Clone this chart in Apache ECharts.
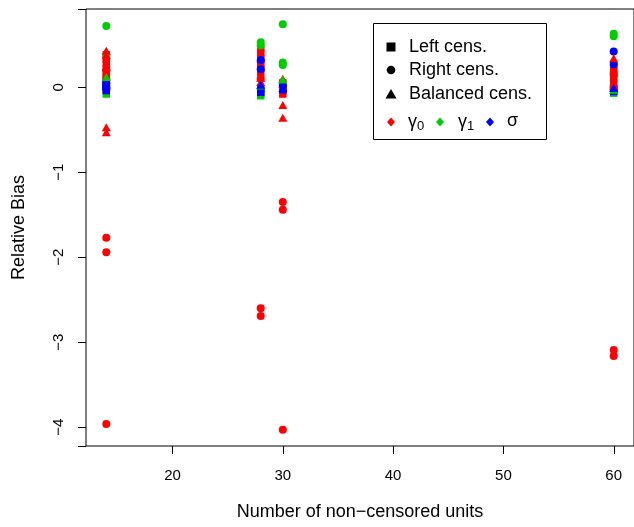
<!DOCTYPE html>
<html><head><meta charset="utf-8">
<script src="https://cdn.jsdelivr.net/npm/echarts@6/dist/echarts.min.js"></script>
<style>html,body{margin:0;padding:0;background:#fff}#c{width:634px;height:527px}</style>
</head><body><div id="c"></div>
<script>
const nUnits = [14, 28, 30, 60];
const xTicks = [20, 30, 40, 50, 60];
const yTicks = [-4, -3, -2, -1, 0];

// Left cens. (squares), values per nUnits
const leftRed   = [[0.38, 0.33, 0.28, 0.22, 0.17, 0.12, 0.06, 0.02, -0.03], [0.46, 0.40, 0.34, 0.28, 0.22, 0.17], [0.05, 0.00, -0.04, -0.08], [0.25, 0.20, 0.15, 0.10, 0.05]];
const leftGreen = [[-0.08, 0.05], [-0.10, -0.07], [-0.02, 0.03], [-0.07, -0.05]];
const leftBlue  = [[0.04, 0.00, -0.04], [-0.02, -0.06], [0.00, -0.03], [-0.02, -0.05]];
// Right cens. (circles)
const rightRed   = [[0.20, 0.10, -1.77, -1.94, -3.96], [0.30, 0.10, -2.60, -2.69], [0.00, -1.35, -1.44, -4.03], [0.15, 0.00, -3.09, -3.16]];
const rightGreen = [[0.72, 0.38], [0.53, 0.49], [0.74, 0.29, 0.26], [0.63, 0.60]];
const rightBlue  = [[0.05, 0.00], [0.32, 0.21], [0.02], [0.42, 0.27]];
// Balanced cens. (triangles)
const balRed   = [[0.43, 0.38, 0.24, -0.47, -0.53], [0.11, 0.06], [0.10, -0.21, -0.36], [0.34, 0.02]];
const balGreen = [[0.12], [0.02], [0.09], [-0.03]];
const balBlue  = [[0.02], [0.03], [-0.01], [-0.01]];

const RED = '#ff0000', GREEN = '#00cd00', BLUE = '#0000ff';
const FONT = "'Liberation Sans', Arial, sans-serif";
const X_MIN = 12.16, X_MAX = 61.84, Y_MIN = -4.22, Y_MAX = 0.92;

function pairs(vals) { return nUnits.flatMap((n, i) => vals[i].map(v => [n, v])); }
function ser(vals, symbol, size, color) {
  return { type: 'scatter', data: pairs(vals), symbol: symbol, symbolSize: size,
           itemStyle: { color: color, opacity: 1 }, silent: true, animation: false };
}
const SQ = 'rect', CI = 'circle', TR = 'triangle';
const series = [
  ser(leftRed, SQ, 7.5, RED), ser(leftGreen, SQ, 7.5, GREEN), ser(leftBlue, SQ, 7.5, BLUE),
  ser(rightRed, CI, 8, RED), ser(rightGreen, CI, 8, GREEN), ser(rightBlue, CI, 8, BLUE),
  ser(balRed, TR, [9, 8], RED), ser(balGreen, TR, [9, 8], GREEN), ser(balBlue, TR, [9, 8], BLUE)
];

const fmt = v => (v < 0 ? '\u2212' + Math.abs(v) : String(v));

const legendGraphic = [
  { type: 'rect', shape: { x: 373.5, y: 23.5, width: 173, height: 116 }, style: { fill: '#fff', stroke: '#000', lineWidth: 1 }, z: 100 },
  { type: 'rect', shape: { x: 386.5, y: 42.5, width: 9, height: 9 }, style: { fill: '#000' }, z: 101 },
  { type: 'circle', shape: { cx: 391, cy: 70, r: 4.3 }, style: { fill: '#000' }, z: 101 },
  { type: 'polygon', shape: { points: [[385.5, 98.5], [396.5, 98.5], [391, 89]] }, style: { fill: '#000' }, z: 101 },
  { type: 'text', x: 409, y: 47, style: { text: 'Left cens.', font: '18px ' + FONT, fill: '#000', verticalAlign: 'middle' }, z: 101 },
  { type: 'text', x: 409, y: 70, style: { text: 'Right cens.', font: '18px ' + FONT, fill: '#000', verticalAlign: 'middle' }, z: 101 },
  { type: 'text', x: 409, y: 94, style: { text: 'Balanced cens.', font: '18px ' + FONT, fill: '#000', verticalAlign: 'middle' }, z: 101 },
  { type: 'polygon', shape: { points: [[391, 117.5], [395, 122], [391, 126.5], [387, 122]] }, style: { fill: RED }, z: 101 },
  { type: 'polygon', shape: { points: [[440, 117.5], [444, 122], [440, 126.5], [436, 122]] }, style: { fill: GREEN }, z: 101 },
  { type: 'polygon', shape: { points: [[490, 117.5], [494, 122], [490, 126.5], [486, 122]] }, style: { fill: BLUE }, z: 101 },
  { type: 'text', x: 408, y: 122, style: { text: '\u03b3', font: '18px ' + FONT, fill: '#000', verticalAlign: 'middle' }, z: 101 },
  { type: 'text', x: 417, y: 126, style: { text: '0', font: '13px ' + FONT, fill: '#000', verticalAlign: 'middle' }, z: 101 },
  { type: 'text', x: 458, y: 122, style: { text: '\u03b3', font: '18px ' + FONT, fill: '#000', verticalAlign: 'middle' }, z: 101 },
  { type: 'text', x: 467, y: 126, style: { text: '1', font: '13px ' + FONT, fill: '#000', verticalAlign: 'middle' }, z: 101 },
  { type: 'text', x: 507, y: 121, style: { text: '\u03c3', font: '18px ' + FONT, fill: '#000', verticalAlign: 'middle' }, z: 101 }
];

const chart = echarts.init(document.getElementById('c'), null, { renderer: 'canvas' });
chart.setOption({
  animation: false,
  backgroundColor: '#fff',
  grid: { left: 86, top: 9, width: 552, height: 437, show: true, borderColor: '#000', borderWidth: 1, containLabel: false },
  xAxis: {
    type: 'value', min: X_MIN, max: X_MAX,
    name: 'Number of non\u2212censored units', nameLocation: 'middle', nameGap: 57,
    nameTextStyle: { fontFamily: FONT, fontSize: 18, color: '#000' },
    axisLine: { show: false }, splitLine: { show: false }, axisTick: { show: false },
    axisLabel: { fontFamily: FONT, fontSize: 15, color: '#000', margin: 22, customValues: xTicks }
  },
  yAxis: {
    type: 'value', min: Y_MIN, max: Y_MAX,
    name: 'Relative Bias', nameLocation: 'middle', nameGap: 58, nameRotate: 90,
    nameTextStyle: { fontFamily: FONT, fontSize: 18, color: '#000' },
    axisLine: { show: false }, splitLine: { show: false },
    axisTick: { show: true, length: 8, lineStyle: { color: '#000', width: 1 } },
    axisLabel: { fontFamily: FONT, fontSize: 15, color: '#000', margin: 20, rotate: 90, customValues: yTicks, formatter: fmt }
  },
  series: series,
  graphic: legendGraphic
});

// bottom tick marks positioned through the chart's own axis scale
const bottomLeft = chart.convertToPixel({ gridIndex: 0 }, [X_MIN, Y_MIN]);
const tickGraphic = [];
xTicks.forEach(v => {
  const p = chart.convertToPixel({ gridIndex: 0 }, [v, Y_MIN]);
  tickGraphic.push({ type: 'rect', shape: { x: Math.round(p[0]), y: Math.round(bottomLeft[1]), width: 1, height: 8 }, style: { fill: '#000' }, z: 200 });
});
chart.setOption({ graphic: legendGraphic.concat(tickGraphic) });
</script>
</body></html>
